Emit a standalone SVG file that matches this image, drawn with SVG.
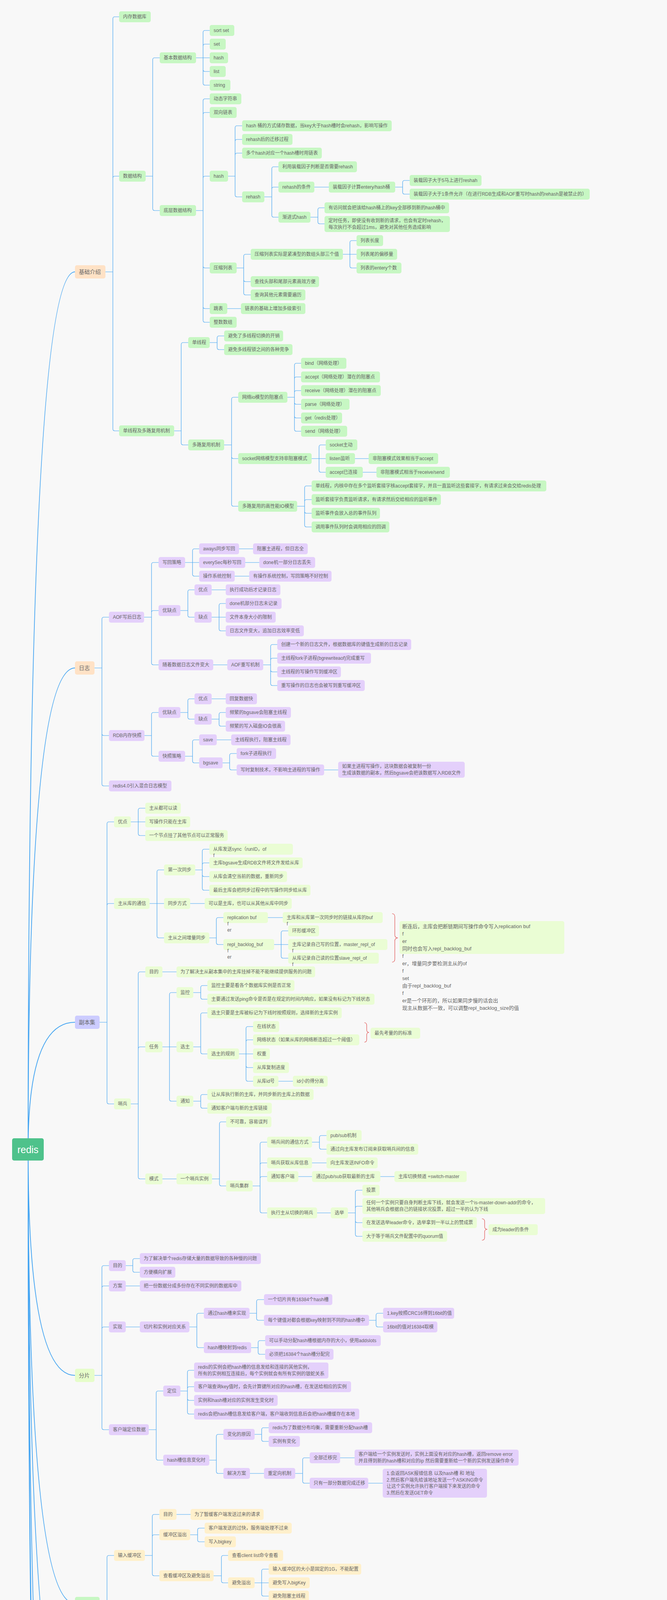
<svg xmlns="http://www.w3.org/2000/svg" width="1708" height="5885" viewBox="0 0 1708 5885">
<style>
rect{rx:5px;ry:5px}
text{font-family:"Liberation Sans","Noto Sans CJK SC",sans-serif;font-size:12px;fill:#666;dominant-baseline:central}
.L text{font-size:14px}
.nt{font-size:13px}
.g rect{fill:#c7f7c3}.p rect{fill:#e4d0fb}.l rect{fill:#eafdd4}.y rect{fill:#fff0cb}.k rect{fill:#ffcdcd}.o rect{fill:#ffe2c6}
.Lo rect{fill:#ffe2c6}.Lv rect{fill:#ccccff}.Ll rect{fill:#e6fdca}.Lg rect{fill:#c7f7c3}.Lb rect{fill:#cde5fe}.Lp rect{fill:#e5ccff}
#connectors path{fill:none;stroke:#45a5f2;stroke-width:1.2}
#connectors .rc{stroke-width:2}
.br{fill:none;stroke:#e05050;stroke-width:1.2}
</style>
<rect x="0" y="0" width="1708" height="5885" fill="#f8f8f8" style="rx:0"/>
<g id="connectors">
<path class="rc" d="M72 2943Q72 696 192 696"/>
<path class="rc" d="M72 2943Q72 1710 192 1710"/>
<path class="rc" d="M72 2943Q72 2617 192 2617"/>
<path class="rc" d="M72 2943Q72 3521 192 3521"/>
<path class="rc" d="M72 2943Q72 4105 192 4105"/>
<path class="rc" d="M72 2943Q72 4475 192 4475"/>
<path class="rc" d="M72 2943Q72 5052 192 5052"/>
<path class="rc" d="M72 2943Q72 5610 192 5610"/>
<path class="rc" d="M72 2943Q72 5789 192 5789"/>
<path d="M270 696H289V48Q289 43 294 43H305M270 696H289V456Q289 451 294 451H305M270 696H289V1098Q289 1103 294 1103H305"/>
<path d="M373 451H391V153Q391 148 396 148H409M373 451H391V534Q391 539 396 539H409"/>
<path d="M502 148H520V83Q520 78 525 78H537M502 148H520V118Q520 113 525 113H537M502 148H537M502 148H520V178Q520 183 525 183H537M502 148H520V213Q520 218 525 218H537"/>
<path d="M502 539H520V258Q520 253 525 253H537M502 539H520V293Q520 288 525 288H537M502 539H520V456Q520 451 525 451H537M502 539H520V681Q520 686 525 686H537M502 539H520V785Q520 790 525 790H537M502 539H520V820Q520 825 525 825H537"/>
<path d="M584 451H602V327Q602 322 607 322H620M584 451H602V362Q602 357 607 357H620M584 451H602V397Q602 392 607 392H620M584 451H602V499Q602 504 607 504H620"/>
<path d="M677 504H696V432Q696 427 701 427H713M677 504H696V484Q696 479 701 479H713M677 504H696V551Q696 556 701 556H713M805 479H842"/>
<path d="M1012 479H1031V467Q1031 462 1036 462H1049M1012 479H1031V492Q1031 497 1036 497H1049"/>
<path d="M795 556H814V537Q814 532 819 532H831M795 556H814V568Q814 573 819 573H831"/>
<path d="M606 686H624V656Q624 651 629 651H642M606 686H624V716Q624 721 629 721H642M606 686H624V750Q624 755 629 755H642"/>
<path d="M878 651H896V621Q896 616 901 616H913M878 651H913M878 651H896V681Q896 686 901 686H913M582 790H617"/>
<path d="M446 1103H464V882Q464 877 469 877H482M446 1103H464V1134Q464 1139 469 1139H482"/>
<path d="M537 877H556V865Q556 860 561 860H574M537 877H556V890Q556 895 561 895H574"/>
<path d="M574 1139H593V1022Q593 1017 598 1017H610M574 1139H593V1169Q593 1174 598 1174H610M574 1139H593V1291Q593 1296 598 1296H610"/>
<path d="M736 1017H754V935Q754 930 759 930H771M736 1017H754V970Q754 965 759 965H771M736 1017H754V1005Q754 1000 759 1000H771M736 1017H754V1030Q754 1035 759 1035H771M736 1017H754V1065Q754 1070 759 1070H771M736 1017H754V1099Q754 1104 759 1104H771"/>
<path d="M798 1174H817V1144Q817 1139 822 1139H834M798 1174H834M798 1174H817V1204Q817 1209 822 1209H834M909 1174H944M929 1209H964"/>
<path d="M761 1296H780V1249Q780 1244 785 1244H798M761 1296H780V1284Q780 1279 785 1279H798M761 1296H780V1309Q780 1314 785 1314H798M761 1296H780V1344Q780 1349 785 1349H798"/>
<path d="M242 1710H261V1585Q261 1580 266 1580H279M242 1710H261V1878Q261 1883 266 1883H279M242 1710H261V2007Q261 2012 266 2012H279"/>
<path d="M369 1580H388V1445Q388 1440 393 1440H406M369 1580H388V1568Q388 1563 393 1563H406M369 1580H388V1697Q388 1702 393 1702H406"/>
<path d="M474 1440H493V1410Q493 1405 498 1405H510M474 1440H510M474 1440H493V1470Q493 1475 498 1475H510M612 1405H648M628 1440H664M601 1475H638"/>
<path d="M462 1563H481V1515Q481 1510 486 1510H498M462 1563H481V1575Q481 1580 486 1580H498M542 1510H578"/>
<path d="M542 1580H561V1550Q561 1545 566 1545H578M542 1580H578M542 1580H561V1610Q561 1615 566 1615H578M546 1702H582"/>
<path d="M674 1702H693V1655Q693 1650 698 1650H710M674 1702H693V1690Q693 1685 698 1685H710M674 1702H693V1715Q693 1720 698 1720H710M674 1702H693V1750Q693 1755 698 1755H710"/>
<path d="M370 1883H388V1829Q388 1824 393 1824H406M370 1883H388V1931Q388 1936 393 1936H406"/>
<path d="M462 1824H481V1794Q481 1789 486 1789H498M462 1824H481V1836Q481 1841 486 1841H498M542 1789H578"/>
<path d="M542 1841H561V1829Q561 1824 566 1824H578M542 1841H561V1854Q561 1859 566 1859H578"/>
<path d="M474 1936H493V1899Q493 1894 498 1894H510M474 1936H493V1948Q493 1953 498 1953H510M555 1894H592"/>
<path d="M570 1953H588V1934Q588 1929 593 1929H606M570 1953H588V1966Q588 1971 593 1971H606M830 1971H866"/>
<path d="M255 2617H274V2109Q274 2104 279 2104H292M255 2617H274V2318Q274 2313 279 2313H292M255 2617H274V2821Q274 2826 279 2826H292"/>
<path d="M335 2104H354V2074Q354 2069 359 2069H372M335 2104H372M335 2104H354V2134Q354 2139 359 2139H372"/>
<path d="M383 2313H402V2232Q402 2227 407 2227H420M383 2313H420M383 2313H402V2396Q402 2401 407 2401H420"/>
<path d="M500 2227H518V2179Q518 2174 523 2174H536M500 2227H518V2214Q518 2209 523 2209H536M500 2227H518V2239Q518 2244 523 2244H536M500 2227H518V2274Q518 2279 523 2279H536M487 2313H524"/>
<path d="M536 2401H554V2354Q554 2349 559 2349H572M536 2401H554V2413Q554 2418 559 2418H572M686 2349H724"/>
<path d="M702 2418H720V2388Q720 2383 725 2383H738M702 2418H738M702 2418H720V2448Q720 2453 725 2453H738"/>
<path d="M335 2826H354V2493Q354 2488 359 2488H372M335 2826H354V2685Q354 2680 359 2680H372M335 2826H354V3013Q354 3018 359 3018H372M416 2488H452"/>
<path d="M416 2680H434V2546Q434 2541 439 2541H452M416 2680H452M416 2680H434V2814Q434 2819 439 2819H452"/>
<path d="M495 2541H514V2528Q514 2523 519 2523H531M495 2541H514V2553Q514 2558 519 2558H531"/>
<path d="M495 2680H514V2598Q514 2593 519 2593H531M495 2680H514V2693Q514 2698 519 2698H531"/>
<path d="M612 2698H630V2633Q630 2628 635 2628H648M612 2698H630V2667Q630 2662 635 2662H648M612 2698H648M612 2698H630V2728Q630 2733 635 2733H648M612 2698H630V2763Q630 2768 635 2768H648M713 2768H750"/>
<path d="M495 2819H514V2807Q514 2802 519 2802H531M495 2819H514V2832Q514 2837 519 2837H531M416 3018H452"/>
<path d="M543 3018H562V2877Q562 2872 567 2872H579M543 3018H562V3031Q562 3036 567 3036H579"/>
<path d="M647 3036H666V2929Q666 2924 671 2924H684M647 3036H666V2982Q666 2977 671 2977H684M647 3036H666V3017Q666 3012 671 3012H684M647 3036H666V3100Q666 3105 671 3105H684"/>
<path d="M799 2924H818V2912Q818 2907 823 2907H836M799 2924H818V2937Q818 2942 823 2942H836M799 2977H836M764 3012H799M974 3012H1010M812 3105H847"/>
<path d="M891 3105H910V3052Q910 3047 915 3047H928M891 3105H910V3093Q910 3088 915 3088H928M891 3105H910V3125Q910 3130 915 3130H928M891 3105H910V3160Q910 3165 915 3165H928"/>
<path d="M242 3521H261V3245Q261 3240 266 3240H279M242 3521H261V3297Q261 3292 266 3292H279M242 3521H261V3402Q261 3397 266 3397H279M242 3521H261V3655Q261 3660 266 3660H279"/>
<path d="M322 3240H340V3227Q340 3222 345 3222H358M322 3240H340V3252Q340 3257 345 3257H358M322 3292H358M322 3397H358"/>
<path d="M485 3397H504V3367Q504 3362 509 3362H522M485 3397H504V3445Q504 3450 509 3450H522"/>
<path d="M639 3362H657V3332Q657 3327 662 3327H676M639 3362H657V3375Q657 3380 662 3380H676"/>
<path d="M945 3380H963V3367Q963 3362 968 3362H981M945 3380H963V3392Q963 3397 968 3397H981"/>
<path d="M643 3450H661V3437Q661 3432 666 3432H679M643 3450H661V3462Q661 3467 666 3467H679"/>
<path d="M381 3660H400V3566Q400 3561 405 3561H418M381 3660H400V3733Q400 3738 405 3738H418"/>
<path d="M462 3561H480V3513Q480 3508 485 3508H497M462 3561H480V3555Q480 3550 485 3550H497M462 3561H480V3580Q480 3585 485 3585H497M462 3561H480V3615Q480 3620 485 3620H497"/>
<path d="M536 3738H554V3677Q554 3672 559 3672H572M536 3738H554V3767Q554 3772 559 3772H572"/>
<path d="M652 3672H670V3660Q670 3655 675 3655H688M652 3672H670V3685Q670 3690 675 3690H688M640 3772H676"/>
<path d="M756 3772H775V3737Q775 3732 780 3732H793M756 3772H775V3792Q775 3797 780 3797H793M871 3732H908M943 3797H980"/>
<path d="M255 4105H274V3987Q274 3982 279 3982H292M255 4105H274V4221Q274 4226 279 4226H292"/>
<path d="M371 3982H390V3882Q390 3877 395 3877H408M371 3982H390V3934Q390 3929 395 3929H408M371 3982H390V4029Q390 4034 395 4034H408M452 3877H488"/>
<path d="M487 3929H506V3917Q506 3912 511 3912H524M487 3929H506V3942Q506 3947 511 3947H524"/>
<path d="M547 4034H567V3987Q567 3982 572 3982H584M547 4034H567V4047Q567 4052 572 4052H584"/>
<path d="M652 4052H670V4022Q670 4017 675 4017H688M652 4052H688M652 4052H670V4081Q670 4086 675 4086H688"/>
<path d="M371 4226H390V4126Q390 4121 395 4121H408M371 4226H390V4238Q390 4243 395 4243H408M452 4121H488"/>
<path d="M523 4243H542V4161Q542 4156 547 4156H560M523 4243H542V4196Q542 4191 547 4191H560M523 4243H542V4273Q542 4278 547 4278H560M683 4191H719"/>
<path d="M699 4278H718V4231Q718 4226 723 4226H736M699 4278H718V4266Q718 4261 723 4261H736M699 4278H718V4308Q718 4313 723 4313H736M828 4226H864M866 4261H903"/>
<path d="M827 4313H846V4301Q846 4296 851 4296H865M827 4313H846V4326Q846 4331 851 4331H865M931 4296H967M931 4331H967"/>
<path d="M354 4475H373V4410Q373 4405 378 4405H390M354 4475H373V4487Q373 4492 378 4492H390M354 4475H373V4557Q373 4562 378 4562H390"/>
<path d="M470 4405H489V4392Q489 4387 494 4387H507M470 4405H489V4417Q489 4422 494 4422H507"/>
<path d="M457 4492H477V4462Q477 4457 482 4457H494M457 4492H477V4504Q477 4509 482 4509H494M561 4457H598"/>
<path d="M561 4509H580V4497Q580 4492 585 4492H598M561 4509H580V4522Q580 4527 585 4527H598M517 4562H554"/>
<path d="M371 5052H390V4623Q390 4618 395 4618H408M371 5052H390V4780Q390 4775 395 4775H408M371 5052H390V5084Q390 5089 395 5089H408M371 5052H390V5378Q390 5383 395 5383H408"/>
<path d="M447 4775H466V4658Q466 4653 471 4653H483M447 4775H466V4788Q466 4793 471 4793H483M563 4653H599M676 4653H712"/>
<path d="M610 4793H630V4745Q630 4740 635 4740H646M610 4793H630V4857Q630 4862 635 4862H646"/>
<path d="M857 4740H876V4694Q876 4689 881 4689H894M857 4740H876V4728Q876 4723 881 4723H894M857 4740H876V4753Q876 4758 881 4758H894M857 4740H876V4788Q876 4793 881 4793H894"/>
<path d="M786 4862H805V4833Q805 4828 810 4828H822M786 4862H822M786 4862H805V4892Q805 4897 810 4897H822"/>
<path d="M452 5089H470V4938Q470 4933 475 4933H487M452 5089H470V4989Q470 4984 475 4984H487M452 5089H470V5042Q470 5037 475 5037H487M452 5089H470V5154Q470 5159 475 5159H487M555 4984H591"/>
<path d="M635 4984H655V4972Q655 4967 660 4967H671M635 4984H655V4997Q655 5002 660 5002H671M730 4967H766M727 5002H763"/>
<path d="M618 5159H637V5094Q637 5089 642 5089H655M618 5159H637V5189Q637 5194 642 5194H655"/>
<path d="M734 5089H753V5077Q753 5072 758 5072H770M734 5089H753V5102Q753 5107 758 5107H770"/>
<path d="M710 5194H729V5147Q729 5142 734 5142H746M710 5194H729V5206Q729 5211 734 5211H746M813 5211H850"/>
<path d="M905 5211H924V5181Q924 5176 929 5176H942M905 5211H942M905 5211H924V5240Q924 5245 929 5245H942"/>
<path d="M450 5383H470V5304Q470 5299 475 5299H486M450 5383H470V5413Q470 5418 475 5418H486"/>
<path d="M589 5299H609V5287Q609 5282 614 5282H626M589 5299H609V5311Q609 5316 614 5316H626M613 5418H650"/>
<path d="M924 5418H944V5354Q944 5349 949 5349H961M924 5418H944V5426Q944 5431 949 5431H961"/>
<path d="M1157 5431H1177V5395Q1177 5390 1182 5390H1195M1157 5431H1177V5450Q1177 5455 1182 5455H1195M1262 5390H1298"/>
<path d="M1262 5455H1280V5436Q1280 5431 1285 5431H1298M1262 5455H1280V5468Q1280 5473 1285 5473H1298"/>
<path d="M242 5610H261V5563Q261 5558 266 5558H279M242 5610H279M242 5610H261V5640Q261 5645 266 5645H279M242 5610H261V5675Q261 5680 266 5680H279"/>
<path d="M326 5558H344V5546Q344 5541 349 5541H362M326 5558H344V5570Q344 5575 349 5575H362M418 5541H454M414 5575H449"/>
<path d="M276 5789H296V5741Q296 5736 301 5736H313M276 5789H296V5776Q296 5771 301 5771H313M276 5789H296V5801Q296 5806 301 5806H313M276 5789H296V5836Q296 5841 301 5841H313"/>
</g>
<g id="braces">
<path class="br" d="M1004 2339Q1011 2339 1011 2347V2393Q1011 2401 1019 2401Q1011 2401 1011 2409V2455Q1011 2463 1004 2463"/>
<path class="br" d="M933 2618Q939 2618 939 2625V2636Q939 2643 945 2643Q939 2643 939 2650V2661Q939 2668 933 2668"/>
<path class="br" d="M1234 3120Q1241 3120 1241 3127V3140Q1241 3147 1248 3147Q1241 3147 1241 3154V3168Q1241 3175 1234 3175"/>
</g>
<g id="root"><rect x="31" y="2914" width="81" height="57" fill="#4ec28b"/><text x="71.5" y="2943" text-anchor="middle" style="font-size:25px;fill:#fff">redis</text></g>
<g id="L1a" class="L Lo"><rect x="192" y="679" width="78" height="34"/><text x="202" y="696">基础介绍</text></g>
<g id="L1b" class="L Lo"><rect x="192" y="1693" width="50" height="34"/><text x="202" y="1710">日志</text></g>
<g id="L1c" class="L Lv"><rect x="192" y="2600" width="63" height="34"/><text x="202" y="2617">副本集</text></g>
<g id="L1d" class="L Ll"><rect x="192" y="3504" width="50" height="34"/><text x="202" y="3521">分片</text></g>
<g id="L1e" class="L Lg"><rect x="192" y="4088" width="63" height="34"/><text x="202" y="4105">缓冲区</text></g>
<g id="L1f" class="L Lo"><rect x="192" y="4458" width="162" height="34"/><text x="202" y="4475">作为缓存数据库的应用</text></g>
<g id="L1g" class="L Lb"><rect x="192" y="5035" width="179" height="34"/><text x="202" y="5052">redis数据缓存的淘汰策略</text></g>
<g id="L1h" class="L Lv"><rect x="192" y="5593" width="50" height="34"/><text x="202" y="5610">事务</text></g>
<g id="L1i" class="L Lp"><rect x="192" y="5772" width="84" height="34"/><text x="202" y="5789">6.0新特性</text></g>
<g id="a1" class="g"><rect x="305" y="29" width="81" height="28"/><text x="315" y="43">内存数据库</text></g>
<g id="a2" class="g"><rect x="305" y="437" width="68" height="28"/><text x="315" y="451">数据结构</text></g>
<g id="a3" class="g"><rect x="305" y="1089" width="141" height="28"/><text x="315" y="1103">单线程及多路复用机制</text></g>
<g id="a4" class="g"><rect x="409" y="134" width="93" height="28"/><text x="419" y="148">基本数据结构</text></g>
<g id="a5" class="g"><rect x="537" y="64" width="63" height="28"/><text x="547" y="78">sort set</text></g>
<g id="a6" class="g"><rect x="537" y="99" width="41" height="28"/><text x="547" y="113">set</text></g>
<g id="a7" class="g"><rect x="537" y="134" width="47" height="28"/><text x="547" y="148">hash</text></g>
<g id="a8" class="g"><rect x="537" y="169" width="41" height="28"/><text x="547" y="183">list</text></g>
<g id="a9" class="g"><rect x="537" y="204" width="53" height="28"/><text x="547" y="218">string</text></g>
<g id="a10" class="g"><rect x="409" y="525" width="93" height="28"/><text x="419" y="539">底层数据结构</text></g>
<g id="a11" class="g"><rect x="537" y="239" width="81" height="28"/><text x="547" y="253">动态字符串</text></g>
<g id="a12" class="g"><rect x="537" y="274" width="69" height="28"/><text x="547" y="288">双向链表</text></g>
<g id="a13" class="g"><rect x="537" y="437" width="47" height="28"/><text x="547" y="451">hash</text></g>
<g id="a14" class="g"><rect x="620" y="308" width="383" height="28"/><text x="630" y="322">hash 桶的方式储存数据，当key大于hash槽时会rehash，影响写操作</text></g>
<g id="a15" class="g"><rect x="620" y="343" width="129" height="28"/><text x="630" y="357">rehash后的迁移过程</text></g>
<g id="a16" class="g"><rect x="620" y="378" width="204" height="28"/><text x="630" y="392">多个hash对应一个hash槽时用链表</text></g>
<g id="a17" class="g"><rect x="620" y="490" width="57" height="28"/><text x="630" y="504">rehash</text></g>
<g id="a18" class="g"><rect x="713" y="413" width="201" height="28"/><text x="723" y="427">利用装载因子判断是否需要rehash</text></g>
<g id="a19" class="g"><rect x="713" y="465" width="92" height="28"/><text x="723" y="479">rehash的条件</text></g>
<g id="a20" class="g"><rect x="842" y="465" width="170" height="28"/><text x="852" y="479">装载因子计算entery/hash桶</text></g>
<g id="a21" class="g"><rect x="1049" y="448" width="184" height="28"/><text x="1059" y="462">装载因子大于5马上进行reshah</text></g>
<g id="a22" class="g"><rect x="1049" y="483" width="461" height="28"/><text x="1059" y="497">装载因子大于1条件允许（在进行RDB生成和AOF重写时hash的rehash是被禁止的）</text></g>
<g id="a23" class="g"><rect x="713" y="542" width="82" height="28"/><text x="723" y="556">渐进式hash</text></g>
<g id="a24" class="g"><rect x="831" y="518" width="319" height="28"/><text x="841" y="532">有访问就会把该给hash桶上的key全部移到新的hash桶中</text></g>
<g id="a25" class="g"><rect x="831" y="553" width="321" height="41"/><text x="841" y="565">定时任务，即使没有收到新的请求，也会有定时rehash，</text><text x="841" y="582">每次执行不会超过1ms，避免对其他任务造成影响</text></g>
<g id="a26" class="g"><rect x="537" y="672" width="69" height="28"/><text x="547" y="686">压缩列表</text></g>
<g id="a27" class="g"><rect x="642" y="637" width="236" height="28"/><text x="652" y="651">压缩列表实际是紧凑型的数组头部三个值</text></g>
<g id="a28" class="g"><rect x="913" y="602" width="68" height="28"/><text x="923" y="616">列表长度</text></g>
<g id="a29" class="g"><rect x="913" y="637" width="104" height="28"/><text x="923" y="651">列表尾的偏移量</text></g>
<g id="a30" class="g"><rect x="913" y="672" width="115" height="28"/><text x="923" y="686">列表的entery个数</text></g>
<g id="a31" class="g"><rect x="642" y="707" width="175" height="28"/><text x="652" y="721">查找头部和尾部元素高效方便</text></g>
<g id="a32" class="g"><rect x="642" y="741" width="140" height="28"/><text x="652" y="755">查询其他元素需要遍历</text></g>
<g id="a33" class="g"><rect x="537" y="776" width="45" height="28"/><text x="547" y="790">跳表</text></g>
<g id="a34" class="g"><rect x="617" y="776" width="165" height="28"/><text x="627" y="790">链表的基础上增加多级索引</text></g>
<g id="a35" class="g"><rect x="537" y="811" width="69" height="28"/><text x="547" y="825">整数数组</text></g>
<g id="a36" class="g"><rect x="482" y="863" width="55" height="28"/><text x="492" y="877">单线程</text></g>
<g id="a37" class="g"><rect x="574" y="846" width="151" height="28"/><text x="584" y="860">避免了多线程切换的开销</text></g>
<g id="a38" class="g"><rect x="574" y="881" width="175" height="28"/><text x="584" y="895">避免多线程锁之间的各种竞争</text></g>
<g id="a39" class="g"><rect x="482" y="1125" width="92" height="28"/><text x="492" y="1139">多路复用机制</text></g>
<g id="a40" class="g"><rect x="610" y="1003" width="126" height="28"/><text x="620" y="1017">网络io模型的阻塞点</text></g>
<g id="a41" class="g"><rect x="771" y="916" width="116" height="28"/><text x="781" y="930">bind（网络处理）</text></g>
<g id="a42" class="g"><rect x="771" y="951" width="202" height="28"/><text x="781" y="965">accept（网络处理）潜在的阻塞点</text></g>
<g id="a43" class="g"><rect x="771" y="986" width="204" height="28"/><text x="781" y="1000">receive（网络处理）潜在的阻塞点</text></g>
<g id="a44" class="g"><rect x="771" y="1021" width="124" height="28"/><text x="781" y="1035">parse（网络处理）</text></g>
<g id="a45" class="g"><rect x="771" y="1056" width="105" height="28"/><text x="781" y="1070">get（redis处理）</text></g>
<g id="a46" class="g"><rect x="771" y="1090" width="118" height="28"/><text x="781" y="1104">send（网络处理）</text></g>
<g id="a47" class="g"><rect x="610" y="1160" width="188" height="28"/><text x="620" y="1174">socket网络模型支持非阻塞模式</text></g>
<g id="a48" class="g"><rect x="834" y="1125" width="81" height="28"/><text x="844" y="1139">socket主动</text></g>
<g id="a49" class="g"><rect x="834" y="1160" width="75" height="28"/><text x="844" y="1174">listen监听</text></g>
<g id="a50" class="g"><rect x="944" y="1160" width="178" height="28"/><text x="954" y="1174">非阻塞模式效果相当于accept</text></g>
<g id="a51" class="g"><rect x="834" y="1195" width="95" height="28"/><text x="844" y="1209">accept已连接</text></g>
<g id="a52" class="g"><rect x="964" y="1195" width="188" height="28"/><text x="974" y="1209">非阻塞模式相当于receive/send</text></g>
<g id="a53" class="g"><rect x="610" y="1282" width="151" height="28"/><text x="620" y="1296">多路复用的高性能IO模型</text></g>
<g id="a54" class="g"><rect x="798" y="1230" width="601" height="28"/><text x="808" y="1244">单线程，内核中存在多个监听套接字核accept套接字，并且一直监听这些套接字，有请求过来会交给redis处理</text></g>
<g id="a55" class="g"><rect x="798" y="1265" width="331" height="28"/><text x="808" y="1279">监听套接字负责监听请求，有请求然后交给相应的监听事件</text></g>
<g id="a56" class="g"><rect x="798" y="1300" width="175" height="28"/><text x="808" y="1314">监听事件会放入总的事件队列</text></g>
<g id="a57" class="g"><rect x="798" y="1335" width="199" height="28"/><text x="808" y="1349">调用事件队列时会调用相应的回调</text></g>
<g id="b1" class="p"><rect x="279" y="1566" width="90" height="28"/><text x="289" y="1580">AOF写后日志</text></g>
<g id="b2" class="p"><rect x="406" y="1426" width="68" height="28"/><text x="416" y="1440">写回策略</text></g>
<g id="b3" class="p"><rect x="510" y="1391" width="102" height="28"/><text x="520" y="1405">aways同步写回</text></g>
<g id="b4" class="p"><rect x="648" y="1391" width="140" height="28"/><text x="658" y="1405">阻塞主进程，但日志全</text></g>
<g id="b5" class="p"><rect x="510" y="1426" width="118" height="28"/><text x="520" y="1440">everySec每秒写回</text></g>
<g id="b6" class="p"><rect x="664" y="1426" width="143" height="28"/><text x="674" y="1440">done机一部分日志丢失</text></g>
<g id="b7" class="p"><rect x="510" y="1461" width="91" height="28"/><text x="520" y="1475">操作系统控制</text></g>
<g id="b8" class="p"><rect x="638" y="1461" width="211" height="28"/><text x="648" y="1475">有操作系统控制，写回策略不好控制</text></g>
<g id="b9" class="p"><rect x="406" y="1549" width="56" height="28"/><text x="416" y="1563">优缺点</text></g>
<g id="b10" class="p"><rect x="498" y="1496" width="44" height="28"/><text x="508" y="1510">优点</text></g>
<g id="b11" class="p"><rect x="578" y="1496" width="140" height="28"/><text x="588" y="1510">执行成功后才记录日志</text></g>
<g id="b12" class="p"><rect x="498" y="1566" width="44" height="28"/><text x="508" y="1580">缺点</text></g>
<g id="b13" class="p"><rect x="578" y="1531" width="143" height="28"/><text x="588" y="1545">done机部分日志未记录</text></g>
<g id="b14" class="p"><rect x="578" y="1566" width="128" height="28"/><text x="588" y="1580">文件本身大小的限制</text></g>
<g id="b15" class="p"><rect x="578" y="1601" width="200" height="28"/><text x="588" y="1615">日志文件变大，追加日志效率变低</text></g>
<g id="b16" class="p"><rect x="406" y="1688" width="140" height="28"/><text x="416" y="1702">随着数据日志文件变大</text></g>
<g id="b17" class="p"><rect x="582" y="1688" width="92" height="28"/><text x="592" y="1702">AOF重写机制</text></g>
<g id="b18" class="p"><rect x="710" y="1636" width="343" height="28"/><text x="720" y="1650">创建一个新的日志文件，根据数据库的键值生成新的日志记录</text></g>
<g id="b19" class="p"><rect x="710" y="1671" width="240" height="28"/><text x="720" y="1685">主线程fork子进程(bgrewriteaof)完成重写</text></g>
<g id="b20" class="p"><rect x="710" y="1706" width="163" height="28"/><text x="720" y="1720">主线程的写操作写到缓冲区</text></g>
<g id="b21" class="p"><rect x="710" y="1741" width="224" height="28"/><text x="720" y="1755">重写操作的日志也会被写到重写缓冲区</text></g>
<g id="b22" class="p"><rect x="279" y="1869" width="91" height="28"/><text x="289" y="1883">RDB内存快照</text></g>
<g id="b23" class="p"><rect x="406" y="1810" width="56" height="28"/><text x="416" y="1824">优缺点</text></g>
<g id="b24" class="p"><rect x="498" y="1775" width="44" height="28"/><text x="508" y="1789">优点</text></g>
<g id="b25" class="p"><rect x="578" y="1775" width="80" height="28"/><text x="588" y="1789">回复数据快</text></g>
<g id="b26" class="p"><rect x="498" y="1827" width="44" height="28"/><text x="508" y="1841">缺点</text></g>
<g id="b27" class="p"><rect x="578" y="1810" width="167" height="28"/><text x="588" y="1824">频繁的bgsave会阻塞主线程</text></g>
<g id="b28" class="p"><rect x="578" y="1845" width="152" height="28"/><text x="588" y="1859">频繁的写入磁盘IO会很高</text></g>
<g id="b29" class="p"><rect x="406" y="1922" width="68" height="28"/><text x="416" y="1936">快照策略</text></g>
<g id="b30" class="p"><rect x="510" y="1880" width="45" height="28"/><text x="520" y="1894">save</text></g>
<g id="b31" class="p"><rect x="592" y="1880" width="152" height="28"/><text x="602" y="1894">主线程执行，阻塞主线程</text></g>
<g id="b32" class="p"><rect x="510" y="1939" width="60" height="28"/><text x="520" y="1953">bgsave</text></g>
<g id="b33" class="p"><rect x="606" y="1915" width="101" height="28"/><text x="616" y="1929">fork子进程执行</text></g>
<g id="b34" class="p"><rect x="606" y="1957" width="224" height="28"/><text x="616" y="1971">写时复制技术，不影响主进程的写操作</text></g>
<g id="b35" class="p"><rect x="866" y="1950" width="324" height="41"/><text x="876" y="1962">如果主进程写操作，这块数据会被复制一份</text><text x="876" y="1979">生成该数据的副本，然后bgsave会把该数据写入RDB文件</text></g>
<g id="b36" class="p"><rect x="279" y="1998" width="160" height="28"/><text x="289" y="2012">redis4.0引入混合日志模型</text></g>
<g id="c1" class="l"><rect x="292" y="2090" width="43" height="28"/><text x="302" y="2104">优点</text></g>
<g id="c2" class="l"><rect x="372" y="2055" width="91" height="28"/><text x="382" y="2069">主从都可以读</text></g>
<g id="c3" class="l"><rect x="372" y="2090" width="115" height="28"/><text x="382" y="2104">写操作只能在主库</text></g>
<g id="c4" class="l"><rect x="372" y="2125" width="211" height="28"/><text x="382" y="2139">一个节点挂了其他节点可以正常服务</text></g>
<g id="c5" class="l"><rect x="292" y="2299" width="91" height="28"/><text x="302" y="2313">主从库的通信</text></g>
<g id="c6" class="l"><rect x="420" y="2213" width="80" height="28"/><text x="430" y="2227">第一次同步</text></g>
<g id="c7" class="l"><rect x="536" y="2160" width="214" height="28"/><text x="546" y="2174">从库发送sync（runID，of</text><text x="546" y="2190">f</text></g>
<g id="c8" class="l"><rect x="536" y="2195" width="239" height="28"/><text x="546" y="2209">主库bgsave生成RDB文件将文件发给从库</text></g>
<g id="c9" class="l"><rect x="536" y="2230" width="199" height="28"/><text x="546" y="2244">从库会清空当前的数据，重新同步</text></g>
<g id="c10" class="l"><rect x="536" y="2265" width="259" height="28"/><text x="546" y="2279">最后主库会把同步过程中的写操作同步给从库</text></g>
<g id="c11" class="l"><rect x="420" y="2299" width="67" height="28"/><text x="430" y="2313">同步方式</text></g>
<g id="c12" class="l"><rect x="524" y="2299" width="223" height="28"/><text x="534" y="2313">可以是主库，也可以从其他从库中同步</text></g>
<g id="c13" class="l"><rect x="420" y="2387" width="116" height="28"/><text x="430" y="2401">主从之间增量同步</text></g>
<g id="c14" class="l"><rect x="572" y="2335" width="114" height="28"/><text x="582" y="2349">replication buf</text><text x="582" y="2365">f</text><text x="582" y="2381">er</text></g>
<g id="c15" class="l"><rect x="724" y="2335" width="256" height="28"/><text x="734" y="2349">主库和从库第一次同步时的链接从库的buf</text><text x="734" y="2365">f</text></g>
<g id="c16" class="l"><rect x="572" y="2404" width="130" height="28"/><text x="582" y="2418">repl_backlog_buf</text><text x="582" y="2434">f</text><text x="582" y="2450">er</text></g>
<g id="c17" class="l"><rect x="738" y="2369" width="79" height="28"/><text x="748" y="2383">环形缓冲区</text></g>
<g id="c18" class="l"><rect x="738" y="2404" width="254" height="28"/><text x="748" y="2418">主库记录自己写的位置，master_repl_of</text><text x="748" y="2434">f</text></g>
<g id="c19" class="l"><rect x="738" y="2439" width="232" height="28"/><text x="748" y="2453">从库记录自己读的位置slave_repl_of</text><text x="748" y="2469">f</text></g>
<g id="c59" class="l"><rect x="1023" y="2358" width="422" height="84"/><text class="nt" x="1030" y="2371">断连后，主库会把断链期间写操作命令写入replication buf</text><text class="nt" x="1030" y="2390">f</text><text class="nt" x="1030" y="2409">er</text><text class="nt" x="1030" y="2428">同时也会写入repl_backlog_buf</text><text class="nt" x="1030" y="2447">f</text><text class="nt" x="1030" y="2466">er，增量同步要检测主从的of</text><text class="nt" x="1030" y="2485">f</text><text class="nt" x="1030" y="2504">set</text><text class="nt" x="1030" y="2523">由于repl_backlog_buf</text><text class="nt" x="1030" y="2542">f</text><text class="nt" x="1030" y="2561">er是一个环形的，所以如果同步慢的话会出</text><text class="nt" x="1030" y="2580">现主从数据不一致，可以调整repl_backlog_size的值</text></g>
<g id="c20" class="l"><rect x="292" y="2812" width="43" height="28"/><text x="302" y="2826">哨兵</text></g>
<g id="c21" class="l"><rect x="372" y="2474" width="44" height="28"/><text x="382" y="2488">目的</text></g>
<g id="c22" class="l"><rect x="452" y="2474" width="355" height="28"/><text x="462" y="2488">为了解决主从副本集中的主库挂掉不能不能继续提供服务的问题</text></g>
<g id="c23" class="l"><rect x="372" y="2666" width="44" height="28"/><text x="382" y="2680">任务</text></g>
<g id="c24" class="l"><rect x="452" y="2527" width="43" height="28"/><text x="462" y="2541">监控</text></g>
<g id="c25" class="l"><rect x="531" y="2509" width="223" height="28"/><text x="541" y="2523">监控主要是看各个数据库实例是否正常</text></g>
<g id="c26" class="l"><rect x="531" y="2544" width="428" height="28"/><text x="541" y="2558">主要通过发送ping命令是否是在规定的时间内响应，如果没有标记为下线状态</text></g>
<g id="c27" class="l"><rect x="452" y="2666" width="43" height="28"/><text x="462" y="2680">选主</text></g>
<g id="c28" class="l"><rect x="531" y="2579" width="344" height="28"/><text x="541" y="2593">选主只要是主库被标记为下线时按照规则，选择新的主库实例</text></g>
<g id="c29" class="l"><rect x="531" y="2684" width="81" height="28"/><text x="541" y="2698">选主的规则</text></g>
<g id="c30" class="l"><rect x="648" y="2614" width="67" height="28"/><text x="658" y="2628">在线状态</text></g>
<g id="c31" class="l"><rect x="648" y="2648" width="272" height="28"/><text x="658" y="2662">网络状态（如果从库的网络断连超过一个阈值）</text></g>
<g id="c32" class="l"><rect x="949" y="2631" width="127" height="28"/><text x="959" y="2645">最先考量的的标准</text></g>
<g id="c33" class="l"><rect x="648" y="2684" width="43" height="28"/><text x="658" y="2698">权重</text></g>
<g id="c34" class="l"><rect x="648" y="2719" width="92" height="28"/><text x="658" y="2733">从库复制进度</text></g>
<g id="c35" class="l"><rect x="648" y="2754" width="65" height="28"/><text x="658" y="2768">从库id号</text></g>
<g id="c36" class="l"><rect x="750" y="2754" width="89" height="28"/><text x="760" y="2768">id小的得分高</text></g>
<g id="c37" class="l"><rect x="452" y="2805" width="43" height="28"/><text x="462" y="2819">通知</text></g>
<g id="c38" class="l"><rect x="531" y="2788" width="272" height="28"/><text x="541" y="2802">让从库执行新的主库，并同步新的主库上的数据</text></g>
<g id="c39" class="l"><rect x="531" y="2823" width="165" height="28"/><text x="541" y="2837">通知客户端与新的主库链接</text></g>
<g id="c40" class="l"><rect x="372" y="3004" width="44" height="28"/><text x="382" y="3018">模式</text></g>
<g id="c41" class="l"><rect x="452" y="3004" width="91" height="28"/><text x="462" y="3018">一个哨兵实例</text></g>
<g id="c42" class="l"><rect x="579" y="2858" width="116" height="28"/><text x="589" y="2872">不可靠，容易误判</text></g>
<g id="c43" class="l"><rect x="579" y="3022" width="68" height="28"/><text x="589" y="3036">哨兵集群</text></g>
<g id="c44" class="l"><rect x="684" y="2910" width="115" height="28"/><text x="694" y="2924">哨兵间的通信方式</text></g>
<g id="c45" class="l"><rect x="836" y="2893" width="90" height="28"/><text x="846" y="2907">pub/sub机制</text></g>
<g id="c46" class="l"><rect x="836" y="2928" width="235" height="28"/><text x="846" y="2942">通过向主库发布订阅来获取哨兵间的信息</text></g>
<g id="c47" class="l"><rect x="684" y="2963" width="115" height="28"/><text x="694" y="2977">哨兵获取从库信息</text></g>
<g id="c48" class="l"><rect x="836" y="2963" width="131" height="28"/><text x="846" y="2977">向主库发送INFO命令</text></g>
<g id="c49" class="l"><rect x="684" y="2998" width="80" height="28"/><text x="694" y="3012">通知客户端</text></g>
<g id="c50" class="l"><rect x="799" y="2998" width="175" height="28"/><text x="809" y="3012">通过pub/sub获取最新的主库</text></g>
<g id="c51" class="l"><rect x="1010" y="2998" width="185" height="28"/><text x="1020" y="3012">主库切换频道 +switch-master</text></g>
<g id="c52" class="l"><rect x="684" y="3091" width="128" height="28"/><text x="694" y="3105">执行主从切换的哨兵</text></g>
<g id="c53" class="l"><rect x="847" y="3091" width="44" height="28"/><text x="857" y="3105">选举</text></g>
<g id="c54" class="l"><rect x="928" y="3033" width="44" height="28"/><text x="938" y="3047">投票</text></g>
<g id="c55" class="l"><rect x="928" y="3067" width="468" height="41"/><text x="938" y="3079">任何一个实例只要自身判断主库下线，就会发送一个is-master-down-addr的命令，</text><text x="938" y="3096">其他哨兵会根据自己的链接状况投票，超过一半的认为下线</text></g>
<g id="c56" class="l"><rect x="928" y="3116" width="293" height="28"/><text x="938" y="3130">在发送选举leader命令，选举拿到一半以上的赞成票</text></g>
<g id="c57" class="l"><rect x="928" y="3151" width="217" height="28"/><text x="938" y="3165">大于等于哨兵文件配置中的quorum值</text></g>
<g id="c58" class="l"><rect x="1251" y="3134" width="126" height="28"/><text x="1261" y="3148">成为leader的条件</text></g>
<g id="d1" class="p"><rect x="279" y="3226" width="43" height="28"/><text x="289" y="3240">目的</text></g>
<g id="d2" class="p"><rect x="358" y="3208" width="310" height="28"/><text x="368" y="3222">为了解决单个redis存储大量的数据导致的各种慢的问题</text></g>
<g id="d3" class="p"><rect x="358" y="3243" width="91" height="28"/><text x="368" y="3257">方便横向扩展</text></g>
<g id="d4" class="p"><rect x="279" y="3278" width="43" height="28"/><text x="289" y="3292">方案</text></g>
<g id="d5" class="p"><rect x="358" y="3278" width="260" height="28"/><text x="368" y="3292">把一份数据分成多份存在不同实例的数据库中</text></g>
<g id="d6" class="p"><rect x="279" y="3383" width="43" height="28"/><text x="289" y="3397">实现</text></g>
<g id="d7" class="p"><rect x="358" y="3383" width="127" height="28"/><text x="368" y="3397">切片和实例对应关系</text></g>
<g id="d8" class="p"><rect x="522" y="3348" width="117" height="28"/><text x="532" y="3362">通过hash槽来实现</text></g>
<g id="d9" class="p"><rect x="676" y="3313" width="175" height="28"/><text x="686" y="3327">一个切片共有16384个hash槽</text></g>
<g id="d10" class="p"><rect x="676" y="3366" width="269" height="28"/><text x="686" y="3380">每个键值对都会根据key映射到不同的hash槽中</text></g>
<g id="d11" class="p"><rect x="981" y="3348" width="182" height="28"/><text x="991" y="3362">1.key按照CRC16得到16bit的值</text></g>
<g id="d12" class="p"><rect x="981" y="3383" width="139" height="28"/><text x="991" y="3397">16bit的值对16384取模</text></g>
<g id="d13" class="p"><rect x="522" y="3436" width="121" height="28"/><text x="532" y="3450">hash槽映射到redis</text></g>
<g id="d14" class="p"><rect x="679" y="3418" width="296" height="28"/><text x="689" y="3432">可以手动分配hash槽根据内存的大小，使用addslots</text></g>
<g id="d15" class="p"><rect x="679" y="3453" width="175" height="28"/><text x="689" y="3467">必须把16384个hash槽分配完</text></g>
<g id="d16" class="p"><rect x="279" y="3646" width="102" height="28"/><text x="289" y="3660">客户端定位数据</text></g>
<g id="d17" class="p"><rect x="418" y="3547" width="44" height="28"/><text x="428" y="3561">定位</text></g>
<g id="d18" class="p"><rect x="497" y="3488" width="344" height="41"/><text x="507" y="3500">redis的实例会把hash槽的信息发给和连接的其他实例，</text><text x="507" y="3517">所有的实例相互连接后，每个实例就会有所有实例的银蛇关系</text></g>
<g id="d19" class="p"><rect x="497" y="3536" width="402" height="28"/><text x="507" y="3550">客户端查询key值时，会先计算键所对应的hash槽，在发送给相应的实例</text></g>
<g id="d20" class="p"><rect x="497" y="3571" width="214" height="28"/><text x="507" y="3585">实例和hash槽对应的实例发生变化时</text></g>
<g id="d21" class="p"><rect x="497" y="3606" width="423" height="28"/><text x="507" y="3620">redis会把hash槽信息发给客户端，客户端收到信息后会把hash槽缓存在本地</text></g>
<g id="d22" class="p"><rect x="418" y="3724" width="118" height="28"/><text x="428" y="3738">hash槽信息变化时</text></g>
<g id="d23" class="p"><rect x="572" y="3658" width="80" height="28"/><text x="582" y="3672">变化的原因</text></g>
<g id="d24" class="p"><rect x="688" y="3641" width="265" height="28"/><text x="698" y="3655">redis为了数据分布均衡，需要重新分配hash槽</text></g>
<g id="d25" class="p"><rect x="688" y="3676" width="80" height="28"/><text x="698" y="3690">实例有变化</text></g>
<g id="d26" class="p"><rect x="572" y="3758" width="68" height="28"/><text x="582" y="3772">解决方案</text></g>
<g id="d27" class="p"><rect x="676" y="3758" width="80" height="28"/><text x="686" y="3772">重定向机制</text></g>
<g id="d28" class="p"><rect x="793" y="3718" width="78" height="28"/><text x="803" y="3732">全部迁移完</text></g>
<g id="d29" class="p"><rect x="908" y="3711" width="420" height="41"/><text x="918" y="3723">客户端给一个实例发送时，实例上面没有对应的hash槽，返回remove error</text><text x="918" y="3740">并且得到新的hash槽和对应的ip 然后需要重新给一个新的实例发送操作命令</text></g>
<g id="d30" class="p"><rect x="793" y="3783" width="150" height="28"/><text x="803" y="3797">只有一部分数据完成迁移</text></g>
<g id="d31" class="p"><rect x="980" y="3760" width="267" height="74"/><text x="990" y="3772">1.会返回ASK报错信息 以及hash槽 和 地址</text><text x="990" y="3789">2.然后客户端先给该地址发送一个ASKING命令</text><text x="990" y="3805">让这个实例允许执行客户端接下来发送的命令</text><text x="990" y="3822">3.然后在发送GET命令</text></g>
<g id="e1" class="y"><rect x="292" y="3968" width="79" height="28"/><text x="302" y="3982">输入缓冲区</text></g>
<g id="e2" class="y"><rect x="408" y="3863" width="44" height="28"/><text x="418" y="3877">目的</text></g>
<g id="e3" class="y"><rect x="488" y="3863" width="187" height="28"/><text x="498" y="3877">为了暂缓客户端发送过来的请求</text></g>
<g id="e4" class="y"><rect x="408" y="3915" width="79" height="28"/><text x="418" y="3929">缓冲区溢出</text></g>
<g id="e5" class="y"><rect x="524" y="3898" width="223" height="28"/><text x="534" y="3912">客户端发送的过快，服务端处理不过来</text></g>
<g id="e6" class="y"><rect x="524" y="3933" width="80" height="28"/><text x="534" y="3947">写入bigkey</text></g>
<g id="e7" class="y"><rect x="408" y="4020" width="139" height="28"/><text x="418" y="4034">查看缓冲区及避免溢出</text></g>
<g id="e8" class="y"><rect x="584" y="3968" width="141" height="28"/><text x="594" y="3982">查看client list命令查看</text></g>
<g id="e9" class="y"><rect x="584" y="4038" width="68" height="28"/><text x="594" y="4052">避免溢出</text></g>
<g id="e10" class="y"><rect x="688" y="4003" width="237" height="28"/><text x="698" y="4017">输入缓冲区的大小是固定的1G，不能配置</text></g>
<g id="e11" class="y"><rect x="688" y="4038" width="105" height="28"/><text x="698" y="4052">避免写入bigKey</text></g>
<g id="e12" class="y"><rect x="688" y="4072" width="103" height="28"/><text x="698" y="4086">避免阻塞主线程</text></g>
<g id="e13" class="y"><rect x="292" y="4212" width="79" height="28"/><text x="302" y="4226">输出缓冲区</text></g>
<g id="e14" class="y"><rect x="408" y="4107" width="44" height="28"/><text x="418" y="4121">目的</text></g>
<g id="e15" class="y"><rect x="488" y="4107" width="175" height="28"/><text x="498" y="4121">为了暂缓返回给客户端的请求</text></g>
<g id="e16" class="y"><rect x="408" y="4229" width="115" height="28"/><text x="418" y="4243">缓冲区溢出的原因</text></g>
<g id="e17" class="y"><rect x="560" y="4142" width="151" height="28"/><text x="570" y="4156">服务端返回大量的bigkey</text></g>
<g id="e18" class="y"><rect x="560" y="4177" width="123" height="28"/><text x="570" y="4191">执行MONITOR命令</text></g>
<g id="e19" class="y"><rect x="719" y="4177" width="236" height="28"/><text x="729" y="4191">主要用在下线测试环境中的不适用于线上</text></g>
<g id="e20" class="y"><rect x="560" y="4264" width="139" height="28"/><text x="570" y="4278">缓冲区大小设置不合理</text></g>
<g id="e21" class="y"><rect x="736" y="4212" width="92" height="28"/><text x="746" y="4226">常规客户端以</text></g>
<g id="e22" class="y"><rect x="864" y="4212" width="406" height="28"/><text x="874" y="4226">可以通过配置项client-output-buf</text><text x="874" y="4242">f</text><text x="874" y="4258">er-li</text></g>
<g id="e23" class="y"><rect x="736" y="4247" width="130" height="28"/><text x="746" y="4261">redis订阅命令客户端</text></g>
<g id="e24" class="y"><rect x="903" y="4247" width="261" height="28"/><text x="913" y="4261">通过client-output-buf</text><text x="913" y="4277">f</text><text x="934" y="4293">limit p</text></g>
<g id="e25" class="y"><rect x="736" y="4299" width="91" height="28"/><text x="746" y="4313">从节点客户端</text></g>
<g id="e26" class="y"><rect x="865" y="4282" width="66" height="28"/><text x="875" y="4296">全量复制</text></g>
<g id="e27" class="y"><rect x="967" y="4282" width="285" height="28"/><text x="977" y="4296">通过conf</text><text x="977" y="4312">i</text><text x="977" y="4346">f</text><text x="977" y="4361">er-limit slave</text></g>
<g id="e28" class="y"><rect x="865" y="4317" width="66" height="28"/><text x="875" y="4331">增量复制</text></g>
<g id="e29" class="y"><rect x="967" y="4317" width="182" height="28"/><text x="977" y="4331">设置repl_backlog_size 的大小</text></g>
<g id="f1" class="y"><rect x="390" y="4391" width="80" height="28"/><text x="400" y="4405">缓存的特征</text></g>
<g id="f2" class="y"><rect x="507" y="4373" width="257" height="28"/><text x="517" y="4387">为了抹平各中数据交换访问速度不一致的问题</text></g>
<g id="f3" class="y"><rect x="507" y="4408" width="390" height="28"/><text x="517" y="4422">缓存系统处理的速度大于后端处理速度，但容量总是小于后端的容量的</text></g>
<g id="f4" class="y"><rect x="390" y="4478" width="67" height="28"/><text x="400" y="4492">缓存处理</text></g>
<g id="f5" class="y"><rect x="494" y="4443" width="67" height="28"/><text x="504" y="4457">缓存命中</text></g>
<g id="f6" class="y"><rect x="598" y="4443" width="91" height="28"/><text x="608" y="4457">直接返回结果</text></g>
<g id="f7" class="y"><rect x="494" y="4495" width="67" height="28"/><text x="504" y="4509">缓存缺失</text></g>
<g id="f8" class="y"><rect x="598" y="4478" width="127" height="28"/><text x="608" y="4492">从后端数据库读数据</text></g>
<g id="f9" class="y"><rect x="598" y="4513" width="91" height="28"/><text x="608" y="4527">需要更新缓存</text></g>
<g id="f10" class="y"><rect x="390" y="4548" width="127" height="28"/><text x="400" y="4562">设置缓存容量的方法</text></g>
<g id="f11" class="y"><rect x="554" y="4548" width="67" height="28"/><text x="564" y="4562">二八原理</text></g>
<g id="g1" class="g"><rect x="408" y="4604" width="291" height="28"/><text x="418" y="4618">设置最大缓存命令CONFIG SET maxmemory 4Ggb</text></g>
<g id="g2" class="g"><rect x="408" y="4761" width="39" height="28"/><text x="418" y="4775">8种</text></g>
<g id="g3" class="g"><rect x="483" y="4639" width="80" height="28"/><text x="493" y="4653">不淘汰数据</text></g>
<g id="g4" class="g"><rect x="599" y="4639" width="77" height="28"/><text x="609" y="4653">noeviction</text></g>
<g id="g5" class="g"><rect x="712" y="4639" width="238" height="28"/><text x="722" y="4653">超过redis最大缓存数据容量时，返回错误</text></g>
<g id="g6" class="g"><rect x="483" y="4779" width="127" height="28"/><text x="493" y="4793">淘汰的数据策略7种</text></g>
<g id="g7" class="g"><rect x="646" y="4726" width="211" height="28"/><text x="656" y="4740">设置过期时间的键值对进行数据淘汰</text></g>
<g id="g8" class="g"><rect x="894" y="4675" width="108" height="28"/><text x="904" y="4689">volatile-random</text></g>
<g id="g9" class="g"><rect x="894" y="4709" width="78" height="28"/><text x="904" y="4723">volatile-ttl</text></g>
<g id="g10" class="g"><rect x="894" y="4744" width="79" height="28"/><text x="904" y="4758">volatile-lru</text></g>
<g id="g11" class="g"><rect x="894" y="4779" width="79" height="28"/><text x="904" y="4793">volatile-lfu</text></g>
<g id="g12" class="g"><rect x="646" y="4848" width="140" height="28"/><text x="656" y="4862">所有的数据中进行淘汰</text></g>
<g id="g13" class="g"><rect x="822" y="4814" width="100" height="28"/><text x="832" y="4828">allkey-random</text></g>
<g id="g14" class="g"><rect x="822" y="4848" width="72" height="28"/><text x="832" y="4862">allkey-lru</text></g>
<g id="g15" class="g"><rect x="822" y="4883" width="72" height="28"/><text x="832" y="4897">allkey-lfu</text></g>
<g id="g16" class="g"><rect x="408" y="5075" width="44" height="28"/><text x="418" y="5089">LRU</text></g>
<g id="g17" class="g"><rect x="487" y="4919" width="139" height="28"/><text x="497" y="4933">最近最少使用的原则来</text></g>
<g id="g18" class="g"><rect x="487" y="4970" width="68" height="28"/><text x="497" y="4984">数据结构</text></g>
<g id="g19" class="g"><rect x="591" y="4970" width="44" height="28"/><text x="601" y="4984">链表</text></g>
<g id="g20" class="g"><rect x="671" y="4953" width="59" height="28"/><text x="681" y="4967">MRU端</text></g>
<g id="g21" class="g"><rect x="766" y="4953" width="115" height="28"/><text x="776" y="4967">最近经常使用的端</text></g>
<g id="g22" class="g"><rect x="671" y="4988" width="56" height="28"/><text x="681" y="5002">LRU端</text></g>
<g id="g23" class="g"><rect x="763" y="4988" width="127" height="28"/><text x="773" y="5002">最近很少使用的一端</text></g>
<g id="g24" class="g"><rect x="487" y="5023" width="235" height="28"/><text x="497" y="5037">如果写满删除数据时是从LRU端删除数据</text></g>
<g id="g25" class="g"><rect x="487" y="5145" width="131" height="28"/><text x="497" y="5159">redis中LRU做了简化</text></g>
<g id="g26" class="g"><rect x="655" y="5075" width="79" height="28"/><text x="665" y="5089">优化的原因</text></g>
<g id="g27" class="g"><rect x="770" y="5058" width="211" height="28"/><text x="780" y="5072">由于要使用链表需要使用额为的内存</text></g>
<g id="g28" class="g"><rect x="770" y="5093" width="127" height="28"/><text x="780" y="5107">需要移动链表速度慢</text></g>
<g id="g29" class="g"><rect x="655" y="5180" width="55" height="28"/><text x="665" y="5194">优化点</text></g>
<g id="g30" class="g"><rect x="746" y="5128" width="457" height="28"/><text x="756" y="5142">默认为每一条数据记录一个最近访问的时间戳（在redisObject中的lru字段中记录）</text></g>
<g id="g31" class="g"><rect x="746" y="5197" width="67" height="28"/><text x="756" y="5211">淘汰策略</text></g>
<g id="g32" class="g"><rect x="850" y="5197" width="55" height="28"/><text x="860" y="5211">第一次</text></g>
<g id="g33" class="g"><rect x="942" y="5162" width="259" height="28"/><text x="952" y="5176">maxmemory-samples来设置候选集合的大小</text></g>
<g id="g34" class="g"><rect x="942" y="5197" width="342" height="28"/><text x="952" y="5211">随机选举出N个数据的一个候选集合把lru中最小的一个淘汰掉</text></g>
<g id="g35" class="g"><rect x="942" y="5231" width="444" height="28"/><text x="952" y="5245">当第二次淘汰数据时，进入候选集合中的元素的lru必须小于候选集合中最小的lru</text></g>
<g id="g36" class="g"><rect x="408" y="5369" width="42" height="28"/><text x="418" y="5383">LFU</text></g>
<g id="g37" class="g"><rect x="486" y="5285" width="103" height="28"/><text x="496" y="5299">淘汰数据的策略</text></g>
<g id="g38" class="g"><rect x="626" y="5268" width="115" height="28"/><text x="636" y="5282">数据访问的时效性</text></g>
<g id="g39" class="g"><rect x="626" y="5302" width="104" height="28"/><text x="636" y="5316">数据被访问次数</text></g>
<g id="g40" class="g"><rect x="486" y="5404" width="127" height="28"/><text x="496" y="5418">淘汰策略的实现方法</text></g>
<g id="g41" class="g"><rect x="650" y="5404" width="274" height="28"/><text x="660" y="5418">把redisObject 24bit的大小的url进一步做了拆分</text></g>
<g id="g42" class="g"><rect x="961" y="5335" width="85" height="28"/><text x="971" y="5349">ldt（16bit）</text></g>
<g id="g43" class="g"><rect x="961" y="5417" width="196" height="28"/><text x="971" y="5431">counter 8bit 记录的最大值是255</text></g>
<g id="g44" class="g"><rect x="1195" y="5376" width="67" height="28"/><text x="1205" y="5390">增加机制</text></g>
<g id="g45" class="g"><rect x="1298" y="5369" width="355" height="41"/><text x="1308" y="5381">用计数器的当前值乘以配置项lfu_log_factor在+1然后取倒数</text><text x="1308" y="5398">然后那这个数和随机生成的0-1之间的数比大小，如果大于1才+1</text></g>
<g id="g46" class="g"><rect x="1195" y="5441" width="67" height="28"/><text x="1205" y="5455">衰减机制</text></g>
<g id="g47" class="g"><rect x="1298" y="5417" width="222" height="28"/><text x="1308" y="5431">衰减因子lfu_decay_time控制访问衰减</text></g>
<g id="g48" class="g"><rect x="1298" y="5452" width="380" height="41"/><text x="1308" y="5464">根据当前时间和最后一次访问时间的差值转化为分钟后除以衰减因子</text><text x="1308" y="5481">得到的值是要衰减的值</text></g>
<g id="h1" class="k"><rect x="279" y="5544" width="47" height="28"/><text x="289" y="5558">ACID</text></g>
<g id="h2" class="k"><rect x="362" y="5527" width="56" height="28"/><text x="372" y="5541">MULTI</text></g>
<g id="h3" class="k"><rect x="454" y="5527" width="255" height="28"/><text x="464" y="5541">redis通过MULTI命令存到reids的命令队列中</text></g>
<g id="h4" class="k"><rect x="362" y="5561" width="52" height="28"/><text x="372" y="5575">EXEC</text></g>
<g id="h5" class="k"><rect x="449" y="5561" width="100" height="28"/><text x="459" y="5575">EXEC执行命令</text></g>
<g id="h6" class="k"><rect x="279" y="5596" width="411" height="28"/><text x="289" y="5610">在入队列前如果是语法错误，会检查出错，执行EXEC整个是事务放弃执行</text></g>
<g id="h7" class="k"><rect x="279" y="5631" width="438" height="28"/><text x="289" y="5645">在事务入队列成功后，由于数据类型等错误会把正确的执行完，不能保证原子行</text></g>
<g id="h8" class="k"><rect x="279" y="5666" width="59" height="28"/><text x="289" y="5680">lue脚本</text></g>
<g id="i1" class="o"><rect x="313" y="5722" width="151" height="28"/><text x="323" y="5736">多个IO线程处理网络请求</text></g>
<g id="i2" class="o"><rect x="313" y="5757" width="175" height="28"/><text x="323" y="5771">实现了服务端协助客户端缓存</text></g>
<g id="i3" class="o"><rect x="313" y="5792" width="115" height="28"/><text x="323" y="5806">细粒度的权限控制</text></g>
<g id="i4" class="o"><rect x="313" y="5827" width="81" height="28"/><text x="323" y="5841">RESP3协议</text></g>
</svg>
